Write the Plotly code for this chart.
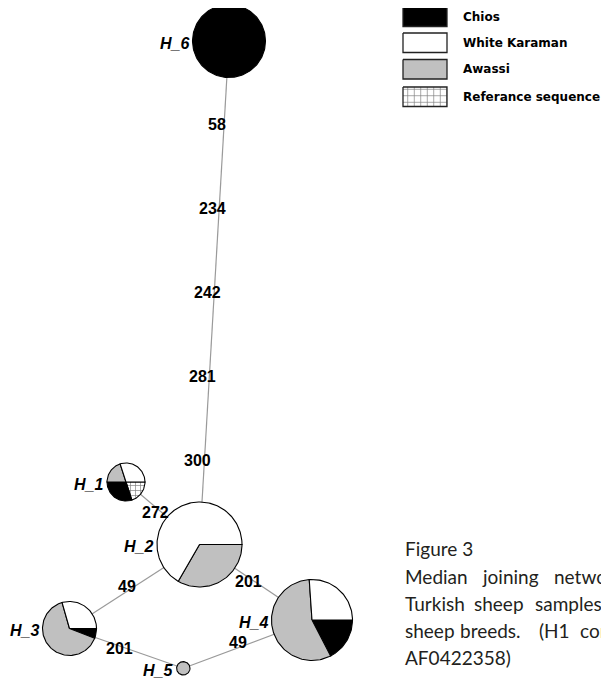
import numpy as np
import plotly.graph_objects as go

# ---------------- data ----------------
haplotypes = ["H_1", "H_2", "H_3", "H_4", "H_5", "H_6"]
# slice order (clockwise from 3 o'clock): reference, Chios, Awassi, White Karaman
ref_counts = [2, 0, 0, 0, 0, 0]
chios_counts = [3, 0, 1, 4, 0, 1]
awassi_counts = [2, 1, 11, 13, 1, 0]
white_counts = [3, 2, 5, 6, 0, 0]

edge_from = ["H_6", "H_1", "H_2", "H_2", "H_3", "H_5"]
edge_to = ["H_2", "H_2", "H_3", "H_4", "H_5", "H_4"]
edge_mutations = [["58", "234", "242", "281", "300"], ["272"], ["49"], ["201"], ["201"], ["49"]]

legend_names = ["Chios", "White Karaman", "Awassi", "Referance sequence"]

caption_lines = [
    ["Figure 3"],
    ["Median", "joining", "network"],
    ["Turkish", "sheep", "samples"],
    ["sheep", "breeds.", "(H1", "corresponds"],
    ["AF0422358)"],
]

# ---------------- layout (pixel space of the page) ----------------
W, H = 609, 681
PAGE_MARGIN = 8  # default body margin of the html page
node_pos = {"H_1": (126, 482), "H_2": (199.5, 544.5), "H_3": (69.5, 628.5),
            "H_4": (312, 620), "H_5": (183.3, 668.3), "H_6": (229, 41)}
node_r = {"H_1": 19, "H_2": 42.5, "H_3": 27, "H_4": 40.5, "H_5": 6.7, "H_6": 36.5}
# label position along edges (fraction) and pixel shifts
edge_t = [None, [0.395], [0.56], [0.434], [0.435], [0.425]]
edge_shift = [(-7, 0), (0, -6), (0, 5), (0, -4.5), (0, -3), (0, 5)]

slice_colors = ["white", "black", "#c0c0c0", "white"]
slice_pattern = [True, False, False, False]
EDGE_COLOR = "#9a9a9a"
LABEL_FONT = "Liberation Sans"
LEGEND_FONT = "DejaVu Sans"
CAPTION_FONT = "Lato"

fig = go.Figure()

# edges
annotations = []
for i, (a, b) in enumerate(zip(edge_from, edge_to)):
    x0, y0 = node_pos[a]
    x1, y1 = node_pos[b]
    fig.add_trace(go.Scatter(x=[x0, x1], y=[y0, y1], mode="lines",
                             line=dict(color=EDGE_COLOR, width=1.2),
                             hoverinfo="skip", showlegend=False))
    muts = edge_mutations[i]
    ts = edge_t[i] if edge_t[i] is not None else [(k + 1) / (len(muts) + 1) for k in range(len(muts))]
    dx, dy = edge_shift[i]
    for m, t in zip(muts, ts):
        annotations.append(dict(x=x0 + t * (x1 - x0), y=y0 + t * (y1 - y0), text=m,
                                showarrow=False, xshift=dx, yshift=dy,
                                font=dict(family=LABEL_FONT, size=16, color="black", weight="bold")))


def arc_pts(cx, cy, r, a0, a1):
    n = max(3, int(abs(a1 - a0) / 2) + 2)
    th = np.radians(np.linspace(a0, a1, n))
    return cx + r * np.cos(th), cy - r * np.sin(th)


# pies
counts = np.array([ref_counts, chios_counts, awassi_counts, white_counts], dtype=float)
for j, hname in enumerate(haplotypes):
    cx, cy = node_pos[hname]
    r = node_r[hname]
    tot = counts[:, j].sum()
    ang = 0.0
    for k in range(4):
        c = counts[k, j]
        if c <= 0:
            continue
        span = 360.0 * c / tot
        if c == tot:
            xs, ys = arc_pts(cx, cy, r, 0, 360)
            xs, ys = list(xs), list(ys)
        else:
            ax, ay = arc_pts(cx, cy, r, ang, ang - span)
            xs = [cx] + list(ax) + [cx]
            ys = [cy] + list(ay) + [cy]
        kw = {}
        if slice_pattern[k]:
            kw["fillpattern"] = dict(shape="+", size=5, solidity=0.25, fgcolor="black", bgcolor="white")
        fig.add_trace(go.Scatter(x=xs, y=ys, mode="lines", fill="toself",
                                 fillcolor=slice_colors[k],
                                 line=dict(color="black", width=1.1),
                                 hoverinfo="skip", showlegend=False, **kw))
        ang -= span
    annotations.append(dict(x=cx - r, y=cy, text=hname, showarrow=False,
                            xanchor="right", xshift=-2, yshift=-2,
                            font=dict(family=LABEL_FONT, size=16, color="black",
                                      weight="bold", style="italic")))

# custom legend
leg_x0, leg_x1 = 403, 447
leg_y = [7, 33, 59.5, 87]
leg_h = 19.5
leg_fill = ["black", "white", "#c0c0c0", "white"]
leg_pat = [False, False, False, True]
for i, name in enumerate(legend_names):
    y0 = leg_y[i]
    kw = {}
    if leg_pat[i]:
        kw["fillpattern"] = dict(shape="+", size=6.5, solidity=0.2, fgcolor="black", bgcolor="white")
    fig.add_trace(go.Scatter(x=[leg_x0, leg_x1, leg_x1, leg_x0, leg_x0],
                             y=[y0, y0, y0 + leg_h, y0 + leg_h, y0],
                             mode="lines", fill="toself", fillcolor=leg_fill[i],
                             line=dict(color="#222", width=1.3),
                             hoverinfo="skip", showlegend=False, **kw))
    annotations.append(dict(x=461, y=y0 + leg_h / 2, text=name, showarrow=False,
                            xanchor="left", yanchor="middle",
                            font=dict(family=LEGEND_FONT, size=12, color="black", weight="bold")))

# caption (justified words)
cap_y = [548, 576, 603, 630, 657]
cap_word_x = [[403], [403, 480, 551.7], [403, 471.7, 533.3], [403, 458.3, 536.7, 578.3], [403]]
for li, words in enumerate(caption_lines):
    for w, x in zip(words, cap_word_x[li]):
        annotations.append(dict(x=x, y=cap_y[li], text=w, showarrow=False,
                                xanchor="left", yanchor="middle",
                                font=dict(family=CAPTION_FONT, size=19, color="#231f20")))

fig.update_layout(
    width=W - PAGE_MARGIN, height=H - PAGE_MARGIN, margin=dict(l=0, r=0, t=0, b=0),
    paper_bgcolor="white", plot_bgcolor="white",
    xaxis=dict(range=[PAGE_MARGIN, W], visible=False, fixedrange=True),
    yaxis=dict(range=[H, PAGE_MARGIN], visible=False, fixedrange=True),
    annotations=annotations, showlegend=False,
)
fig.write_html("out.html")
